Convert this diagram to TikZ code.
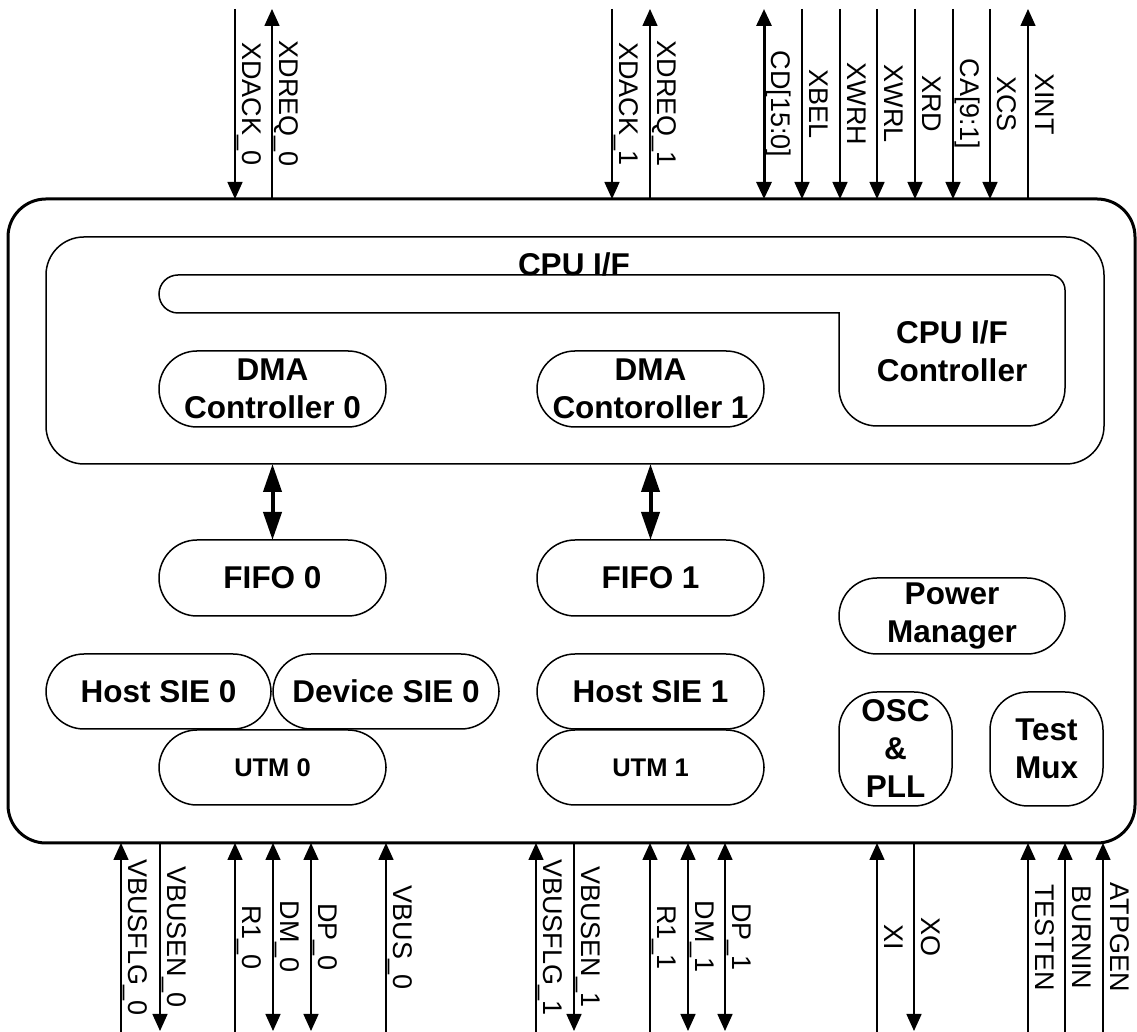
\documentclass[tikz,border=0pt]{standalone}
\usepackage{fontspec}
\setmainfont{Liberation Sans}
\usepackage{tikz}
\usetikzlibrary{arrows.meta}

\newcommand{\blockfont}{\fontsize{31.5}{38}\selectfont\bfseries}
\newcommand{\utmfont}{\fontsize{25.5}{30}\selectfont\bfseries}
\newcommand{\pinfont}{\fontsize{27}{30}\selectfont}

\begin{document}
\begin{tikzpicture}[x=1pt,y=1pt,
  >={Triangle[length=17pt,width=15pt]},
  block/.style={draw,line width=1.5pt,rounded corners=38pt,inner sep=0pt,outer sep=0pt,align=center,font=\blockfont},
  pin/.style={line width=1.5pt},
  bus/.style={line width=3pt},
  pinlabel/.style={rotate=-90,anchor=south,text depth=0pt,inner ysep=7pt,inner xsep=0pt,outer sep=0pt,font=\pinfont},
  dbus/.style={line width=4pt,arrows={Triangle[length=28pt,width=18pt]-Triangle[length=28pt,width=18pt]}}]
\useasboundingbox (0,0) rectangle (1137,1032);
% chip outline
\node[draw,line width=3pt,rounded corners=38pt,minimum width=1127pt,minimum height=644pt,inner sep=0pt,outer sep=0pt] (chip) at (571.5,511) {};
\node[block,minimum width=1058pt,minimum height=227pt] (cpuif) at (575,681.5) {};
\node[font=\blockfont,anchor=base,inner sep=0pt] (cpuiftitle) at (574,756) {CPU I/F};
% bus and cpu i/f controller
\draw[line width=1.5pt] (178,757) -- (1050,757) arc[start angle=90,end angle=0,radius=15]
  -- (1065,644) arc[start angle=0,end angle=-90,radius=38]
  -- (877,606) arc[start angle=270,end angle=180,radius=38]
  -- (839,719) -- (178,719) arc[start angle=270,end angle=90,radius=19] -- cycle;
\node[font=\blockfont,align=center,inner sep=0pt] (ctrl) at (952,681) {CPU I/F\\Controller};
% blocks
\node[block,minimum width=227pt,minimum height=76pt] (dma0) at (272.5,643) {DMA\\Controller 0};
\node[block,minimum width=227pt,minimum height=76pt] (dma1) at (650.5,643) {DMA\\Contoroller 1};
\node[block,minimum width=227pt,minimum height=76pt] (fifo0) at (272.5,454) {FIFO 0};
\node[block,minimum width=227pt,minimum height=76pt] (fifo1) at (650.5,454) {FIFO 1};
\node[block,minimum width=225pt,minimum height=75pt] (hsie0) at (158.5,340.5) {Host SIE 0};
\node[block,minimum width=226pt,minimum height=75pt] (dsie0) at (386,340.5) {Device SIE 0};
\node[block,minimum width=227pt,minimum height=75pt,font=\utmfont] (utm0) at (272.5,264.5) {UTM 0};
\node[block,minimum width=227pt,minimum height=75pt] (hsie1) at (650.5,340.5) {Host SIE 1};
\node[block,minimum width=227pt,minimum height=75pt,font=\utmfont] (utm1) at (650.5,264.5) {UTM 1};
\node[block,minimum width=226pt,minimum height=76pt] (pwr) at (952,416) {Power\\Manager};
\node[block,minimum width=113pt,minimum height=114pt] (osc) at (895.5,283) {OSC\\\&\\PLL};
\node[block,minimum width=113pt,minimum height=114pt] (tmux) at (1046.5,283) {Test\\Mux};
% dma <-> fifo
\draw[dbus] (fifo0.north) -- (fifo0.north |- cpuif.south);
\draw[dbus] (fifo1.north) -- (fifo1.north |- cpuif.south);
% top pins
\coordinate (xdack0) at (235,1023);
\coordinate (xdreq0) at (272,1023);
\coordinate (xdack1) at (612,1023);
\coordinate (xdreq1) at (650,1023);
\coordinate (cd) at (764,1023);
\coordinate (xbel) at (802,1023);
\coordinate (xwrh) at (840,1023);
\coordinate (xwrl) at (877,1023);
\coordinate (xrd) at (915,1023);
\coordinate (ca) at (953,1023);
\coordinate (xcs) at (990,1023);
\coordinate (xint) at (1028,1023);
\draw[pin,->] (xdack0) -- (xdack0 |- chip.north) node[pinlabel,midway] (lxdack0) {XDACK\_0};
\draw[pin,<-] (xdreq0) -- (xdreq0 |- chip.north) node[pinlabel,midway] (lxdreq0) {XDREQ\_0};
\draw[pin,->] (xdack1) -- (xdack1 |- chip.north) node[pinlabel,midway] (lxdack1) {XDACK\_1};
\draw[pin,<-] (xdreq1) -- (xdreq1 |- chip.north) node[pinlabel,midway] (lxdreq1) {XDREQ\_1};
\draw[bus,<->] (cd) -- (cd |- chip.north) node[pinlabel,midway] (lcd) {CD[15:0]};
\draw[pin,->] (xbel) -- (xbel |- chip.north) node[pinlabel,midway] (lxbel) {XBEL};
\draw[pin,->] (xwrh) -- (xwrh |- chip.north) node[pinlabel,midway] (lxwrh) {XWRH};
\draw[pin,->] (xwrl) -- (xwrl |- chip.north) node[pinlabel,midway] (lxwrl) {XWRL};
\draw[pin,->] (xrd) -- (xrd |- chip.north) node[pinlabel,midway] (lxrd) {XRD};
\draw[pin,->] (ca) -- (ca |- chip.north) node[pinlabel,midway] (lca) {CA[9:1]};
\draw[pin,->] (xcs) -- (xcs |- chip.north) node[pinlabel,midway] (lxcs) {XCS};
\draw[pin,<-] (xint) -- (xint |- chip.north) node[pinlabel,midway] (lxint) {XINT};
% bottom pins
\coordinate (vbusflg0) at (121,0);
\coordinate (vbusen0) at (160,1);
\coordinate (r10) at (235,0);
\coordinate (dm0) at (273,1);
\coordinate (dp0) at (311,1);
\coordinate (vbus0) at (386,0);
\coordinate (vbusflg1) at (536,0);
\coordinate (vbusen1) at (574,1);
\coordinate (r11) at (650,0);
\coordinate (dm1) at (688,1);
\coordinate (dp1) at (725,1);
\coordinate (xi) at (877,0);
\coordinate (xo) at (914,1);
\coordinate (testen) at (1028,0);
\coordinate (burnin) at (1065,0);
\coordinate (atpgen) at (1103,0);
\draw[pin,<-] (vbusflg0 |- chip.south) -- (vbusflg0) node[pinlabel,midway] (lvbusflg0) {VBUSFLG\_0};
\draw[pin,->] (vbusen0 |- chip.south) -- (vbusen0) node[pinlabel,midway] (lvbusen0) {VBUSEN\_0};
\draw[pin,<-] (r10 |- chip.south) -- (r10) node[pinlabel,midway] (lr10) {R1\_0};
\draw[pin,<->] (dm0 |- chip.south) -- (dm0) node[pinlabel,midway] (ldm0) {DM\_0};
\draw[pin,<->] (dp0 |- chip.south) -- (dp0) node[pinlabel,midway] (ldp0) {DP\_0};
\draw[pin,<-] (vbus0 |- chip.south) -- (vbus0) node[pinlabel,midway] (lvbus0) {VBUS\_0};
\draw[pin,<-] (vbusflg1 |- chip.south) -- (vbusflg1) node[pinlabel,midway] (lvbusflg1) {VBUSFLG\_1};
\draw[pin,->] (vbusen1 |- chip.south) -- (vbusen1) node[pinlabel,midway] (lvbusen1) {VBUSEN\_1};
\draw[pin,<-] (r11 |- chip.south) -- (r11) node[pinlabel,midway] (lr11) {R1\_1};
\draw[pin,<->] (dm1 |- chip.south) -- (dm1) node[pinlabel,midway] (ldm1) {DM\_1};
\draw[pin,<->] (dp1 |- chip.south) -- (dp1) node[pinlabel,midway] (ldp1) {DP\_1};
\draw[pin,<-] (xi |- chip.south) -- (xi) node[pinlabel,midway] (lxi) {XI};
\draw[pin,->] (xo |- chip.south) -- (xo) node[pinlabel,midway] (lxo) {XO};
\draw[pin,<-] (testen |- chip.south) -- (testen) node[pinlabel,midway] (ltesten) {TESTEN};
\draw[pin,<-] (burnin |- chip.south) -- (burnin) node[pinlabel,midway] (lburnin) {BURNIN};
\draw[pin,<-] (atpgen |- chip.south) -- (atpgen) node[pinlabel,midway] (latpgen) {ATPGEN};
\end{tikzpicture}
\end{document}
